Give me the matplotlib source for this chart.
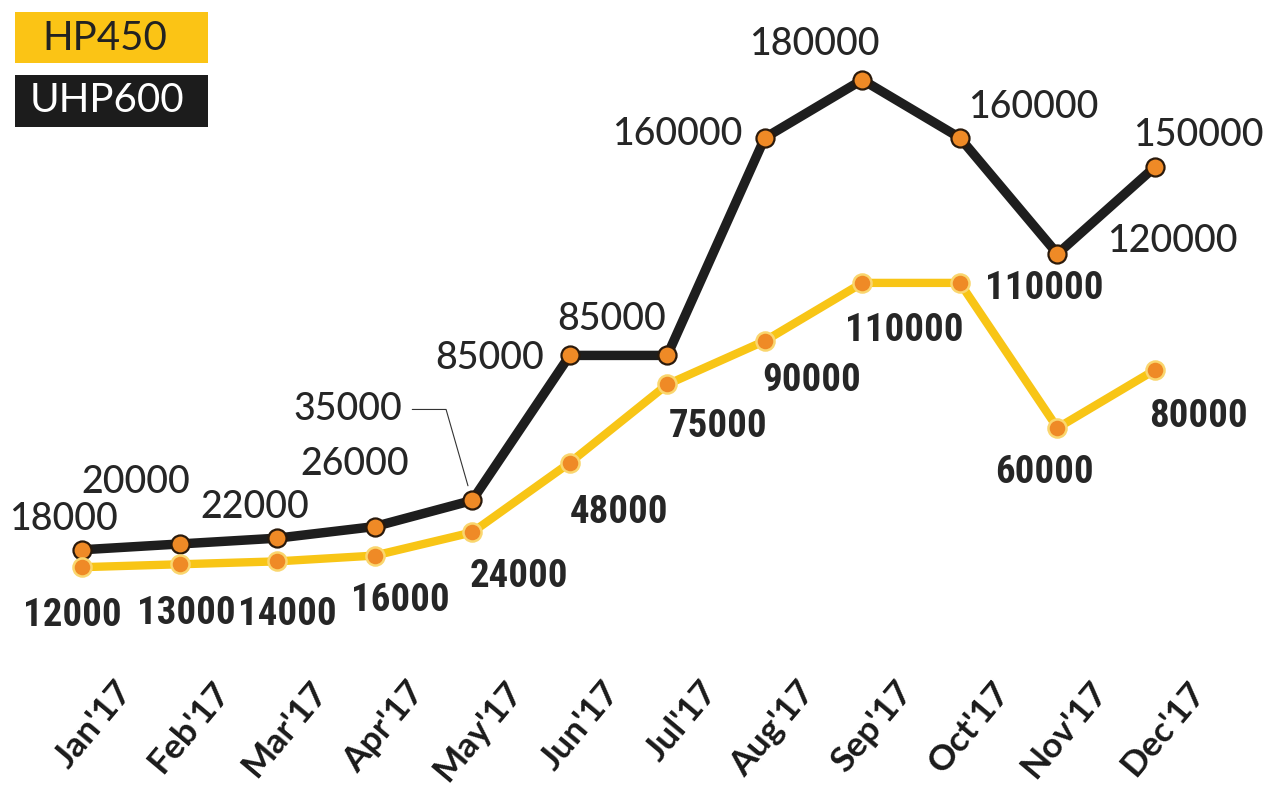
import matplotlib
matplotlib.use("Agg")
import matplotlib.pyplot as plt
from matplotlib.patches import Rectangle
from matplotlib.transforms import ScaledTranslation

months = ["Jan'17", "Feb'17", "Mar'17", "Apr'17", "May'17", "Jun'17",
          "Jul'17", "Aug'17", "Sep'17", "Oct'17", "Nov'17", "Dec'17"]
hp450 = [12000, 13000, 14000, 16000, 24000, 48000, 75000, 90000,
         110000, 110000, 60000, 80000]
uhp600 = [18000, 20000, 22000, 26000, 35000, 85000, 85000, 160000,
          180000, 160000, 120000, 150000]

# label offsets (pixels, right / down) for each point's value label
uhp_offsets = [(-19, -30), (-44, -61), (-22, -31), (-20, -62), (-124, -91),
               (-80, 3), (-56, -36), (-88, -3), (-48, -35), (73, -30),
               (115, -12), (43, -31)]
hp_offsets = [(-10, 48), (7, 49), (10, 53), (26, 45), (47, 44), (49, 50),
              (51, 42), (47, 40), (42, 48), (84, 6), (-13, 45), (43, 47)]

YELLOW = "#F8C516"
BLACK = "#1E1E1E"
ORANGE = "#EF8A26"
TEXT = "#262626"

W, H = 1269, 785
fig = plt.figure(figsize=(W / 100, H / 100), dpi=100)
bottom_px = 685
ax = fig.add_axes([0, (H - bottom_px) / H, 1, bottom_px / H])
ax.set_xlim(-0.8406, 12.1687)
ax.set_ylim(-28611, 207515)
for s in ax.spines.values():
    s.set_visible(False)
ax.set_yticks([])

x = list(range(len(months)))

ax.plot(x, uhp600, color=BLACK, lw=6.8, solid_joinstyle="miter",
        marker="o", ms=13, mfc=ORANGE, mec="#2a1a0c", mew=1.6, zorder=3)
ax.plot(x, hp450, color=YELLOW, lw=6.0, solid_joinstyle="miter",
        marker="o", ms=13, mfc=ORANGE, mec="#FAD66E", mew=1.8, zorder=4)

black_font = dict(family=["Lato", "DejaVu Sans"], fontsize=27,
                  fontweight="medium", color=TEXT)
yellow_font = dict(family=["Roboto Condensed", "DejaVu Sans"],
                   fontstretch="condensed", fontsize=28, fontweight="bold",
                   color=TEXT)

px = 72 / 100  # pixels -> points
for i, (v, (dx, dy)) in enumerate(zip(uhp600, uhp_offsets)):
    kw = {}
    if i == 4:
        kw["arrowprops"] = dict(arrowstyle="-", color="#333333", lw=0.8,
                                relpos=(1, 0.5), shrinkA=5, shrinkB=11,
                                connectionstyle="angle,angleA=0,angleB=106,rad=0")
    ax.annotate(f"{v}", (i, v), xytext=(dx * px, -dy * px),
                textcoords="offset points", ha="center", va="center",
                zorder=5, **black_font, **kw)

for i, (v, (dx, dy)) in enumerate(zip(hp450, hp_offsets)):
    ax.annotate(f"{v}", (i, v), xytext=(dx * px, -dy * px),
                textcoords="offset points", ha="center", va="center",
                zorder=5, **yellow_font)

ax.set_xticks(x)
ax.set_xticklabels(months, rotation=50, ha="right", va="center",
                   rotation_mode="anchor", family=["Lato", "DejaVu Sans"],
                   fontsize=25.5, fontweight="bold", color="#1a1a1a")
ax.tick_params(axis="x", length=0, pad=0)
shift = ScaledTranslation(44 / 100, -1 / 100, fig.dpi_scale_trans)
for lab in ax.get_xticklabels():
    lab.set_transform(lab.get_transform() + shift)

# legend boxes in the top-left corner
def fig_box(x0, y0, x1, y1, color):
    fig.patches.append(Rectangle((x0 / W, 1 - y1 / H), (x1 - x0) / W,
                                 (y1 - y0) / H, transform=fig.transFigure,
                                 facecolor=color, edgecolor="none"))

fig_box(15, 12, 208, 63, "#FBC415")
fig_box(15, 75, 208, 127, "#1C1C1C")
fig.text(105 / W, 1 - 38 / H, "HP450", ha="center", va="center",
         family=["Lato", "DejaVu Sans"], fontsize=29, color="#222222")
fig.text(107 / W, 1 - 100 / H, "UHP600", ha="center", va="center",
         family=["Lato", "DejaVu Sans"], fontsize=29, color="white")

fig.savefig("out.png", dpi=100, facecolor="white")
